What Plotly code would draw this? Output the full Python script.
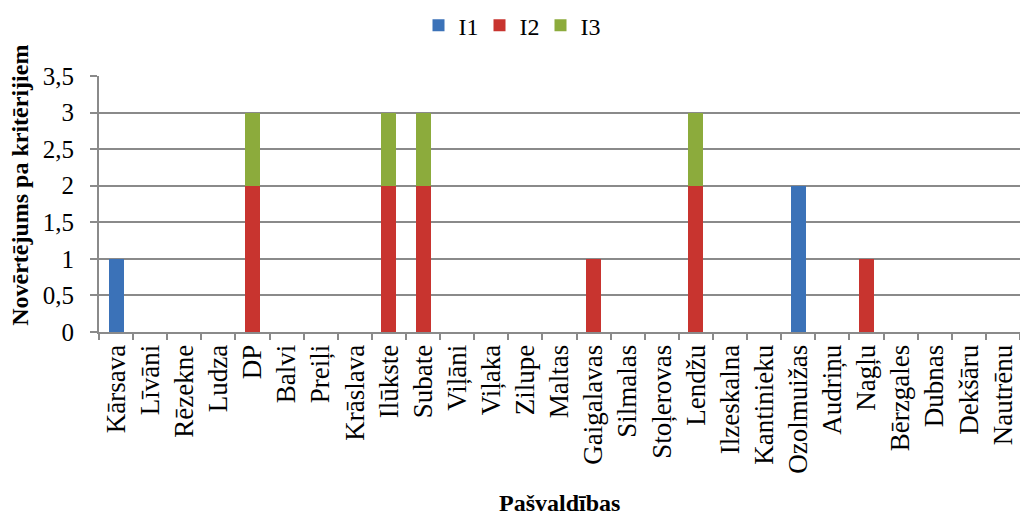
import plotly.graph_objects as go

municipalities = ["Kārsava", "Līvāni", "Rēzekne", "Ludza", "DP", "Balvi", "Preiļi",
                  "Krāslava", "Ilūkste", "Subate", "Viļāni", "Viļaka", "Zilupe", "Maltas",
                  "Gaigalavas", "Silmalas", "Stoļerovas", "Lendžu", "Ilzeskalna",
                  "Kantinieku", "Ozolmuižas", "Audriņu", "Nagļu", "Bērzgales", "Dubnas",
                  "Dekšāru", "Nautrēnu"]
i1 = [1, 0, 0, 0, 0, 0, 0, 0, 0, 0, 0, 0, 0, 0, 0, 0, 0, 0, 0, 0, 2, 0, 0, 0, 0, 0, 0]
i2 = [0, 0, 0, 0, 2, 0, 0, 0, 2, 2, 0, 0, 0, 0, 1, 0, 0, 2, 0, 0, 0, 0, 1, 0, 0, 0, 0]
i3 = [0, 0, 0, 0, 1, 0, 0, 0, 1, 1, 0, 0, 0, 0, 0, 0, 0, 1, 0, 0, 0, 0, 0, 0, 0, 0, 0]

font = "Liberation Serif, Times New Roman, serif"
grid = "#8a8a8a"

fig = go.Figure()
for name, vals, color in [("I1", i1, "#3b72b8"),
                          ("I2", i2, "#c8342f"),
                          ("I3", i3, "#8cab3c")]:
    fig.add_trace(go.Bar(x=municipalities, y=vals, name=name,
                         marker=dict(color=color, line=dict(width=0))))

fig.update_layout(
    barmode="stack",
    bargap=0.56,
    width=1020, height=515,
    margin=dict(l=99, r=0, t=76, b=183),
    paper_bgcolor="white", plot_bgcolor="white",
    separators=",.",
    font=dict(family=font, size=24, color="black"),
    legend=dict(orientation="h", xref="container", x=0.5, xanchor="center",
                y=0.95, yanchor="middle", yref="container",
                font=dict(size=24), itemwidth=30,
                entrywidth=16, entrywidthmode="pixels", traceorder="normal"),
    annotations=[
        dict(text="<b>Novērtējums pa kritērijiem</b>", textangle=-90,
             xref="paper", yref="paper", x=-0.086, y=0.574,
             xanchor="center", yanchor="middle", showarrow=False,
             font=dict(size=24)),
        dict(text="<b>Pašvaldības</b>",
             xref="paper", yref="paper", x=0.5, y=-0.668,
             xanchor="center", yanchor="middle", showarrow=False,
             font=dict(size=24)),
    ],
)
fig.update_xaxes(
    tickangle=-90, showline=True, linecolor=grid, linewidth=2,
    ticks="outside", tickson="boundaries", ticklen=6, tickcolor=grid, tickwidth=2,
    showgrid=False, tickfont=dict(size=27), automargin=False,
)
fig.update_yaxes(
    range=[0, 3.5], dtick=0.5, showline=True, linecolor=grid, linewidth=2,
    ticks="outside", ticklen=7, tickcolor=grid, tickwidth=2,
    showgrid=True, gridcolor=grid, gridwidth=2, zeroline=False,
    tickfont=dict(size=25), ticklabelstandoff=11, automargin=False,
)

# page body has a default 8px margin; drop it so the figure fills the window
fig.write_html("out.html", config={"displayModeBar": False},
               post_script="document.body.style.margin='0';")
